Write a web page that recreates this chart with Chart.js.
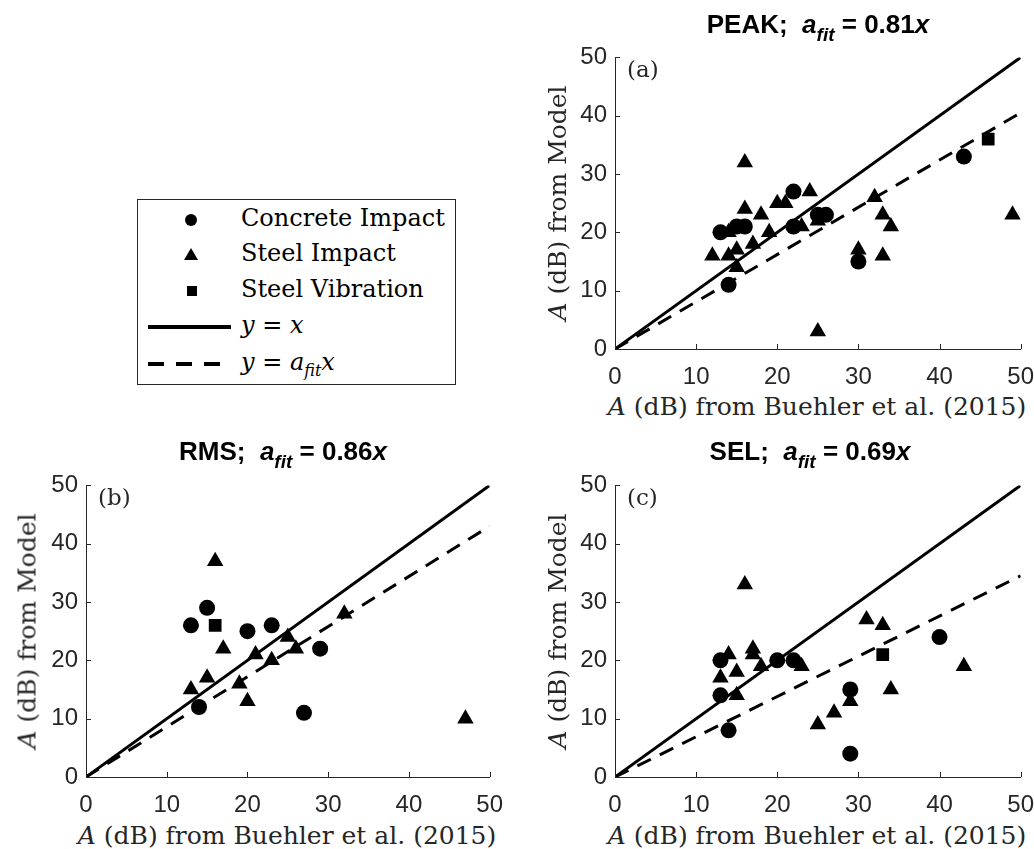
<!DOCTYPE html>
<html>
<head>
<meta charset="utf-8">
<script src="https://cdn.jsdelivr.net/npm/chart.js@4.4.1/dist/chart.umd.min.js"></script>
<style>
  body { margin: 0; background: #fff; width: 1034px; height: 849px; position: relative; overflow: hidden; }
  canvas { position: absolute; }
  .serif { font-family: 'DejaVu Serif', serif; color: #262626; position: absolute; white-space: nowrap; }
  .ttl { font-family: 'Liberation Sans', Arial, sans-serif; font-weight: bold; font-size: 26px; color: #000;
         position: absolute; white-space: nowrap; transform: translate(-50%, -50%); }
  .ttl sub { font-size: 19px; vertical-align: -8px; }
  .ylab { transform: translate(-50%, -50%) rotate(-90deg); font-size: 25px; }
  .xlab { transform: translate(-50%, -50%); font-size: 25px; }
  .tag { font-size: 23px; }
  #legend { position: absolute; left: 137px; top: 199px; width: 317px; height: 184px; border: 1px solid #262626; background: #fff; }
  #legend .row { position: absolute; left: 0; height: 0; }
  #legend .txt { font-family: 'DejaVu Serif', serif; font-size: 24px; color: #000; position: absolute; left: 103px; top: -16px; white-space: nowrap; }
  .dot { position: absolute; left: 47px; top: -6px; width: 12px; height: 12px; border-radius: 50%; background: #000; }
  .tri { position: absolute; left: 46px; top: -7px; width: 0; height: 0; border-left: 7px solid transparent; border-right: 7px solid transparent; border-bottom: 12px solid #000; }
  .sq { position: absolute; left: 49px; top: -5px; width: 10px; height: 10px; background: #000; }
  .solid { position: absolute; left: 10px; top: -2px; width: 83px; height: 4px; background: #000; }
  .dash { position: absolute; left: 10px; top: -2px; width: 83px; height: 4px;
          background: repeating-linear-gradient(90deg, #000 0 16px, transparent 16px 28px); }
</style>
</head>
<body>
<canvas id="peak" width="483" height="354" style="left:565px; top:35px;"></canvas>
<canvas id="rms" width="481" height="354" style="left:36px; top:463px;"></canvas>
<canvas id="sel" width="483" height="354" style="left:565px; top:463px;"></canvas>

<div class="ttl" style="left:818px; top:27px;">PEAK;&nbsp; <i>a<sub>fit</sub></i> = 0.81<i>x</i></div>
<div class="ttl" style="left:283px; top:454px;">RMS;&nbsp; <i>a<sub>fit</sub></i> = 0.86<i>x</i></div>
<div class="ttl" style="left:810px; top:454px;">SEL;&nbsp; <i>a<sub>fit</sub></i> = 0.69<i>x</i></div>

<div class="serif tag" style="left:627px; top:56px;">(a)</div>
<div class="serif tag" style="left:98px; top:484px;">(b)</div>
<div class="serif tag" style="left:627px; top:484px;">(c)</div>

<div class="serif ylab" style="left:557px; top:203px;"><i>A</i> (dB) from Model</div>
<div class="serif ylab" style="left:27px; top:631px;"><i>A</i> (dB) from Model</div>
<div class="serif ylab" style="left:557px; top:631px;"><i>A</i> (dB) from Model</div>

<div class="serif xlab" style="left:817px; top:406px;"><i>A</i> (dB) from Buehler et al. (2015)</div>
<div class="serif xlab" style="left:287px; top:835px;"><i>A</i> (dB) from Buehler et al. (2015)</div>
<div class="serif xlab" style="left:817px; top:835px;"><i>A</i> (dB) from Buehler et al. (2015)</div>

<div id="legend">
  <div class="row" style="top:20px;"><div class="dot"></div><div class="txt">Concrete Impact</div></div>
  <div class="row" style="top:55px;"><div class="tri"></div><div class="txt">Steel Impact</div></div>
  <div class="row" style="top:91px;"><div class="sq"></div><div class="txt">Steel Vibration</div></div>
  <div class="row" style="top:127px;"><div class="solid"></div><div class="txt"><i>y</i> = <i>x</i></div></div>
  <div class="row" style="top:164px;"><div class="dash"></div><div class="txt"><i>y</i> = <i>a<sub style="font-size:16px">fit</sub>x</i></div></div>
</div>

<script>
// axis ticks (same for every panel)
const tickValues = [0, 10, 20, 30, 40, 50];
const lineX = [0, 50];

// (a) PEAK
const peakConcreteX = [13, 15, 16, 22, 22, 25, 26, 14, 30, 43];
const peakConcreteY = [20, 21, 21, 27, 21, 23, 23, 11, 15, 33];
const peakSteelX = [16, 24, 20, 21, 16, 18, 14, 19, 23, 12, 14, 15, 17, 15, 25, 25, 32, 33, 34, 30, 33, 49];
const peakSteelY = [32, 27, 25, 25, 24, 23, 20, 20, 21, 16, 16, 17, 18, 14, 3, 22, 26, 23, 21, 17, 16, 23];
const peakVibX = [46];
const peakVibY = [36];
const peakFit = 0.81;

// (b) RMS
const rmsConcreteX = [15, 13, 20, 23, 29, 14, 27];
const rmsConcreteY = [29, 26, 25, 26, 22, 12, 11];
const rmsSteelX = [16, 17, 21, 25, 26, 23, 32, 15, 13, 19, 20, 47];
const rmsSteelY = [37, 22, 21, 24, 22, 20, 28, 17, 15, 16, 13, 10];
const rmsVibX = [16];
const rmsVibY = [26];
const rmsFit = 0.86;

// (c) SEL
const selConcreteX = [13, 20, 22, 13, 14, 29, 29, 40];
const selConcreteY = [20, 20, 20, 14, 8, 15, 4, 24];
const selSteelX = [16, 14, 17, 17, 13, 15, 18, 23, 15, 25, 27, 29, 31, 33, 34, 43];
const selSteelY = [33, 21, 22, 21, 17, 18, 19, 19, 14, 9, 11, 13, 27, 26, 15, 19];
const selVibX = [33];
const selVibY = [21];
const selFit = 0.69;

Chart.defaults.font.family = "'Liberation Sans', Arial, sans-serif";
Chart.defaults.font.size = 24;
Chart.defaults.color = '#262626';

const pts = (xs, ys) => xs.map((x, i) => ({ x: x, y: ys[i] }));

// MATLAB style: tick marks pointing into the axes
const inwardTicks = {
  id: 'inwardTicks',
  afterDraw(chart) {
    const { ctx, chartArea, scales } = chart;
    ctx.save();
    ctx.strokeStyle = '#262626';
    ctx.lineWidth = 1;
    ctx.beginPath();
    scales.x.ticks.forEach(t => {
      const px = Math.round(scales.x.getPixelForValue(t.value)) + 0.5;
      ctx.moveTo(px, chartArea.bottom);
      ctx.lineTo(px, chartArea.bottom - 5);
    });
    scales.y.ticks.forEach(t => {
      const py = Math.round(scales.y.getPixelForValue(t.value)) + 0.5;
      ctx.moveTo(chartArea.left, py);
      ctx.lineTo(chartArea.left + 5, py);
    });
    ctx.stroke();
    ctx.restore();
  }
};

function makePanel(id, cx, cy, sx, sy, vx, vy, aFit) {
  const ctx = document.getElementById(id).getContext('2d');
  const axis = {
    type: 'linear',
    min: 0,
    max: 50,
    afterBuildTicks: s => { s.ticks = tickValues.map(v => ({ value: v })); },
    grid: { drawOnChartArea: false, drawTicks: false },
    border: { display: true, color: '#262626', width: 1 }
  };
  return new Chart(ctx, {
    type: 'scatter',
    data: {
      datasets: [
        { label: 'Concrete Impact', data: pts(cx, cy), pointStyle: 'circle', pointRadius: 8,
          backgroundColor: '#000', borderColor: '#000', borderWidth: 0 },
        { label: 'Steel Impact', data: pts(sx, sy), pointStyle: 'triangle', pointRadius: 9.5,
          backgroundColor: '#000', borderColor: '#000', borderWidth: 0 },
        { label: 'Steel Vibration', data: pts(vx, vy), pointStyle: 'rect', pointRadius: 9,
          backgroundColor: '#000', borderColor: '#000', borderWidth: 0 },
        { label: 'y = x', type: 'line', data: pts(lineX, lineX), borderColor: '#000', borderWidth: 3,
          pointRadius: 0, fill: false },
        { label: 'y = a_fit x', type: 'line', data: pts(lineX, lineX.map(x => aFit * x)), borderColor: '#000',
          borderWidth: 3, borderDash: [15, 10], pointRadius: 0, fill: false }
      ]
    },
    options: {
      responsive: false,
      animation: false,
      layout: { padding: 0 },
      plugins: { legend: { display: false }, tooltip: { enabled: false } },
      scales: {
        x: Object.assign({}, axis, {
          ticks: { padding: 14, maxRotation: 0 },
          afterFit: s => { s.height = 40; }
        }),
        y: Object.assign({}, axis, {
          ticks: { padding: 8 },
          afterFit: s => { s.width = 50; }
        })
      }
    },
    plugins: [inwardTicks]
  });
}

makePanel('peak', peakConcreteX, peakConcreteY, peakSteelX, peakSteelY, peakVibX, peakVibY, peakFit);
makePanel('rms', rmsConcreteX, rmsConcreteY, rmsSteelX, rmsSteelY, rmsVibX, rmsVibY, rmsFit);
makePanel('sel', selConcreteX, selConcreteY, selSteelX, selSteelY, selVibX, selVibY, selFit);
</script>
</body>
</html>
